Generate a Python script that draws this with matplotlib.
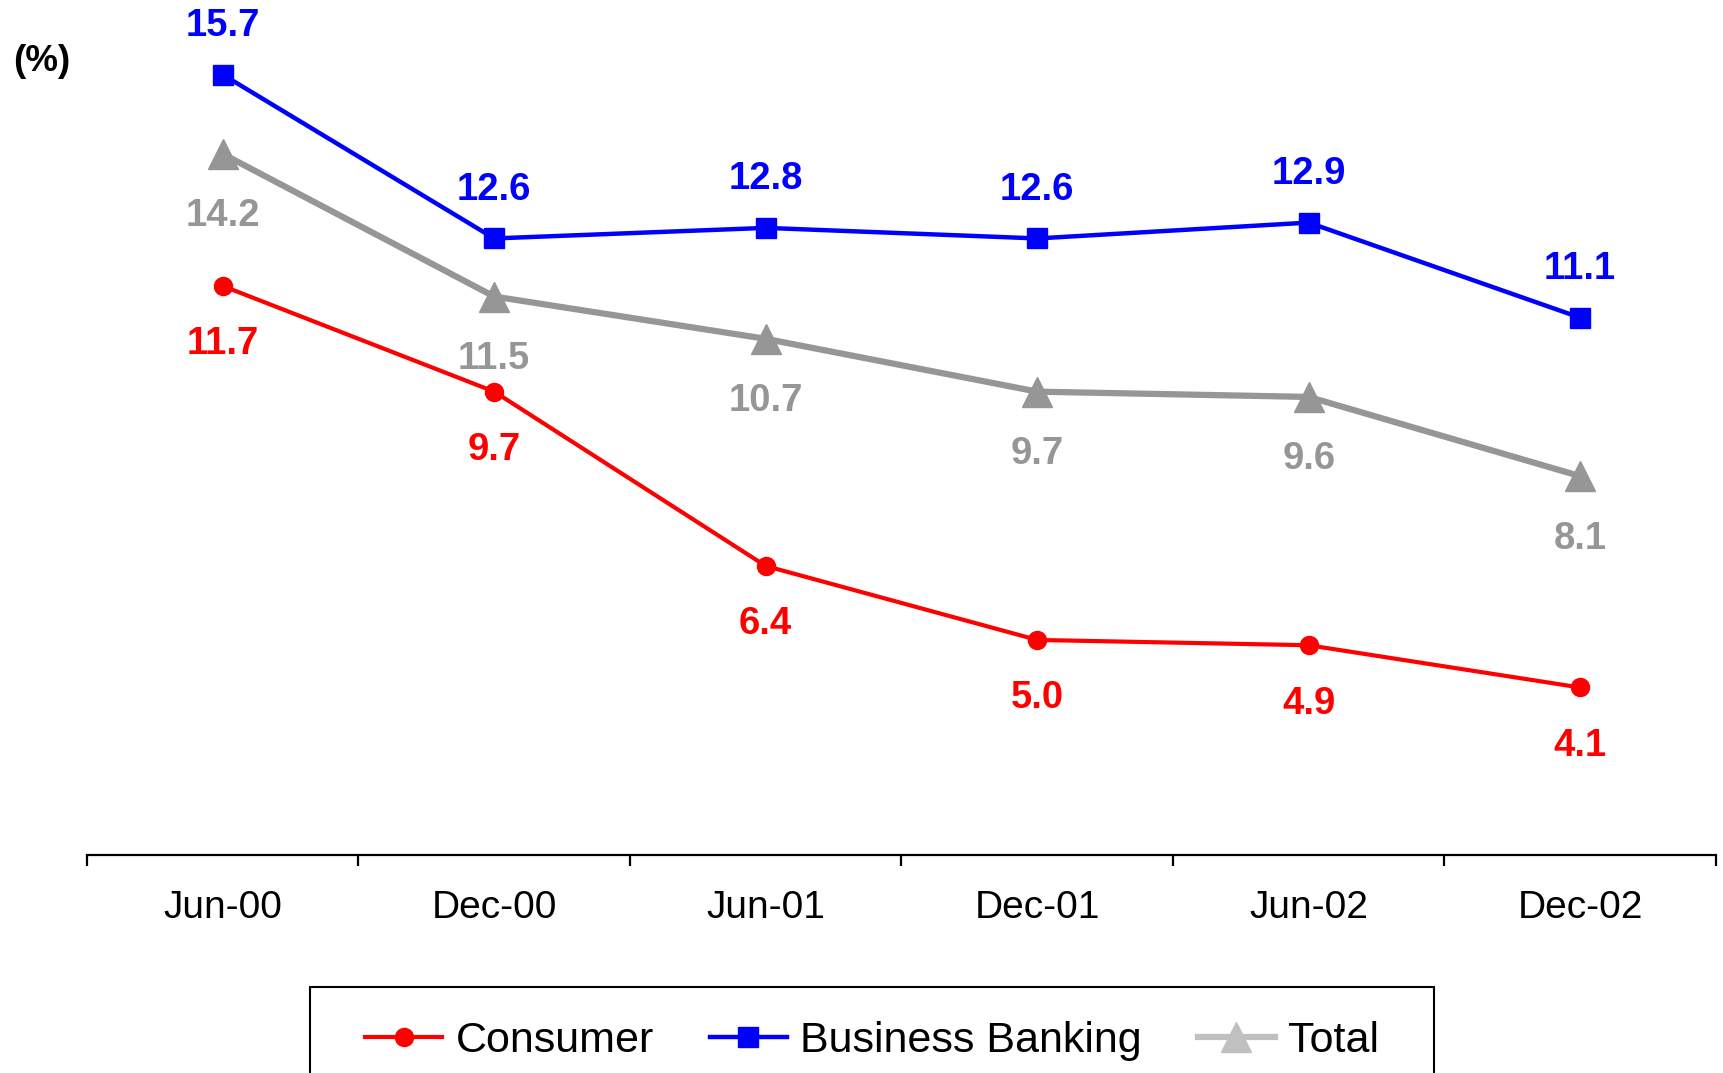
import matplotlib.pyplot as plt
from matplotlib.lines import Line2D
from matplotlib.patches import Rectangle

plt.rcParams['font.family'] = ['Liberation Sans', 'DejaVu Sans']

# datos
periodos = ["Jun-00", "Dec-00", "Jun-01", "Dec-01", "Jun-02", "Dec-02"]
consumer = [11.7, 9.7, 6.4, 5.0, 4.9, 4.1]
business = [15.7, 12.6, 12.8, 12.6, 12.9, 11.1]
total = [14.2, 11.5, 10.7, 9.7, 9.6, 8.1]

ROJO = '#FF0000'
AZUL = '#0000FF'
GRIS = '#969696'
GRIS_CLARO = '#C0C0C0'


def main():
    fig = plt.figure(figsize=(17.23, 10.73), dpi=100)
    ax = fig.add_axes([0.0505, 0.2032, 0.9454, 0.7666])
    x = list(range(len(periodos)))

    l_tot, = ax.plot(x, total, color=GRIS, lw=4.5, marker='^', ms=21,
                     label="Total", zorder=2)
    l_bus, = ax.plot(x, business, color=AZUL, lw=3.2, marker='s', ms=14,
                     label="Business Banking", zorder=3)
    l_con, = ax.plot(x, consumer, color=ROJO, lw=3.0, marker='o', ms=13,
                     label="Consumer", zorder=3)

    # etiquetas de valores
    for xi, v in zip(x, business):
        ax.annotate(f"{v:.1f}", (xi, v), xytext=(0, 35), textcoords='offset points',
                    ha='center', va='center', fontsize=27.5, fontweight='bold', color=AZUL)
    for xi, v in zip(x, consumer):
        ax.annotate(f"{v:.1f}", (xi, v), xytext=(0, -42), textcoords='offset points',
                    ha='center', va='center', fontsize=27.5, fontweight='bold', color=ROJO)
    for xi, v in zip(x, total):
        ax.annotate(f"{v:.1f}", (xi, v), xytext=(0, -45), textcoords='offset points',
                    ha='center', va='center', fontsize=27.5, fontweight='bold', color=GRIS)

    ax.set_xlim(-0.5, len(periodos) - 0.5)
    ax.set_ylim(0.93, 16.5)
    ax.set_yticks([])
    for s in ['top', 'right', 'left']:
        ax.spines[s].set_visible(False)
    ax.spines['bottom'].set_linewidth(1.6)

    ax.set_xticks(x)
    ax.set_xticklabels(periodos, fontsize=28)
    ax.set_xticks([i - 0.5 for i in range(len(periodos) + 1)], minor=True)
    ax.tick_params(axis='x', which='major', length=0, pad=25)
    ax.tick_params(axis='x', which='minor', length=8, width=1.6, direction='out')

    fig.text(0.0243, 0.9427, "(%)", fontsize=26.5, fontweight='bold',
             ha='center', va='center')

    # leyenda
    proxy_tot = Line2D([], [], color=GRIS_CLARO, lw=4.5, marker='^', ms=21)
    fig.add_artist(Rectangle((310 / 1723, -0.05), 1124 / 1723, 1 - 987 / 1073 + 0.05,
                             transform=fig.transFigure, fill=False, edgecolor='black',
                             lw=1.5, clip_on=False))
    fig.legend([l_con, l_bus, proxy_tot], ["Consumer", "Business Banking", "Total"],
               loc='center', bbox_to_anchor=(872 / 1723, 1 - 1041 / 1073), ncol=3,
               frameon=False, fontsize=31, handlelength=1.8, handletextpad=0.3,
               columnspacing=1.3, borderpad=0)

    fig.savefig("out.png", dpi=100)


if __name__ == "__main__":
    main()
